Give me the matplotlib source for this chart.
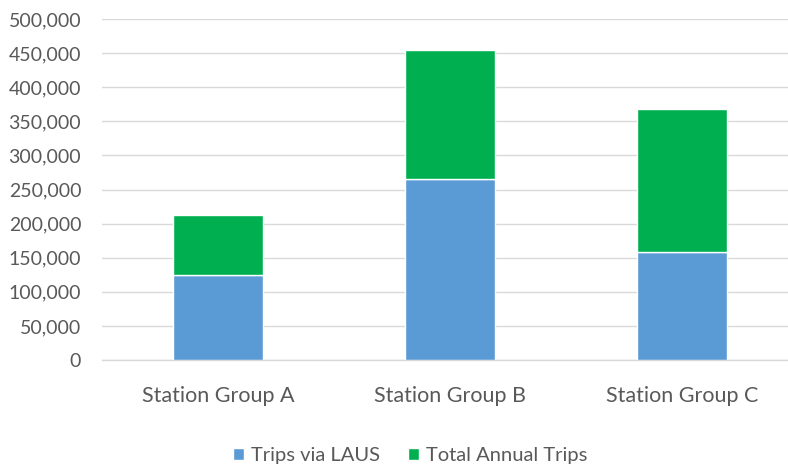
import matplotlib
matplotlib.use("Agg")
import matplotlib.pyplot as plt
import numpy as np
from matplotlib import ticker

matplotlib.rcParams.update({
    "font.family": ["Lato", "DejaVu Sans"],
})

groups = ["Station Group A", "Station Group B", "Station Group C"]
trips_via_laus = [125000, 266000, 159000]
total_annual_trips = [88000, 189000, 209000]

BLUE = "#5B9BD5"
GREEN = "#00B050"
TEXT = "#595959"
GRID = "#D9D9D9"

fig = plt.figure(figsize=(7.88, 4.67), dpi=100)
ax = fig.add_axes([102 / 788, 107 / 467, 686 / 788, 341 / 467])

x = np.arange(len(groups))
w = 0.39
ax.bar(x, trips_via_laus, w, color=BLUE, edgecolor="white", linewidth=1,
       label="Trips via LAUS", zorder=3)
ax.bar(x, total_annual_trips, w, bottom=trips_via_laus, color=GREEN,
       edgecolor="white", linewidth=1, label="Total Annual Trips", zorder=3)

ax.set_xlim(-0.5, -0.5 + 686 / 232)
ax.set_ylim(0, 500000)
ax.yaxis.set_major_locator(ticker.MultipleLocator(50000))
ax.yaxis.set_major_formatter(ticker.FuncFormatter(lambda v, p: f"{int(v):,}"))
ax.grid(axis="y", color=GRID, linewidth=1, zorder=0)
ax.set_axisbelow(True)

for side in ["top", "right", "left"]:
    ax.spines[side].set_visible(False)
ax.spines["bottom"].set_color(GRID)
ax.spines["bottom"].set_linewidth(1)

ax.set_xticks(x)
ax.set_xticklabels(groups, fontsize=15.5, color=TEXT)
ax.tick_params(axis="x", length=0, pad=19)
ax.tick_params(axis="y", length=0, pad=15, labelsize=14, labelcolor=TEXT)

handles, labels = ax.get_legend_handles_labels()
fig.legend(handles, labels, loc="center", bbox_to_anchor=(410 / 788, 11 / 467),
           ncol=2, frameon=False, fontsize=14.5, labelcolor=TEXT,
           handlelength=0.55, handleheight=0.55, handletextpad=0.35,
           columnspacing=1.4, borderpad=0.1)

fig.savefig("out.png", dpi=100)
